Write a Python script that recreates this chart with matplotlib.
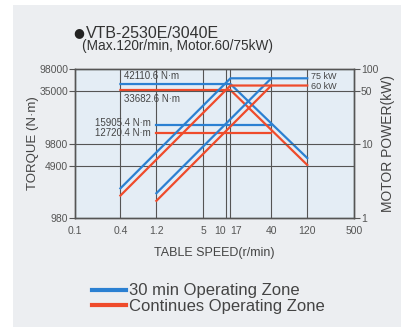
import numpy as np
import matplotlib
matplotlib.use('Agg')
import matplotlib.pyplot as plt
from matplotlib.patches import Rectangle
from matplotlib.lines import Line2D
from matplotlib.ticker import NullLocator

plt.rcParams['font.family'] = ['Liberation Sans', 'DejaVu Sans']

# table speed (r/min)
speed_low = [0.4, 17, 120]
speed_high = [1.2, 40]

# motor power (kW), right axis
power_30min_low = [2.5, 75, 75]
power_30min_high = [2.15, 75]
power_cont_low = [2.0, 60, 60]
power_cont_high = [1.7, 60]

# torque as drawn against the left axis (N·m)
torque_30min_low = [61600, 61600, 6250]
torque_30min_high = [17400, 17400]
torque_cont_low = [51200, 51200, 5050]
torque_cont_high = [13550, 13550]

speed_ticks = [0.1, 0.4, 1.2, 5, 10, 17, 40, 120, 500]
speed_labels = ['0.1', '0.4', '1.2', '5', '10', '17', '40', '120', '500']
torque_labels = ['980', '4900', '9800', '35000', '98000']
power_ticks = [1, 10, 50, 100]

BLUE = '#2b80d2'
RED = '#ef4b2b'
GRID = '#555555'
TXT = '#555555'

# the printed chart squeezes 17 r/min next to 10 on its log speed axis
knots = np.log10([0.1, 10, 17, 40, 500])
drawn = np.log10([0.1, 10, 11.5, 40, 500])


def fwd(x):
    return np.interp(np.log10(np.clip(x, 1e-9, None)), knots, drawn)


def inv(v):
    return 10 ** np.interp(v, drawn, knots)


fig = plt.figure(figsize=(4.07, 3.27), dpi=100)
fig.patch.set_facecolor('white')
fig.patches.append(Rectangle((13 / 407, 0), 388 / 407, 322 / 327, transform=fig.transFigure,
                             facecolor='#eceef1', edgecolor='none', zorder=-10))

ax = fig.add_axes([75 / 407, 109 / 327, 279 / 407, 149 / 327])
ax.set_facecolor('#e4edf5')
ax.set_xscale('function', functions=(fwd, inv))
ax.set_yscale('log')
ax.set_xlim(0.1, 500)
ax.set_ylim(980, 98000)

ax2 = ax.twinx()
ax2.set_yscale('log')
ax2.set_ylim(1, 100)

# torque curves
ax.plot(speed_low, torque_30min_low, color=BLUE, lw=1.6, zorder=4)
ax.plot(speed_high, torque_30min_high, color=BLUE, lw=1.6, zorder=4)
ax.plot(speed_low, torque_cont_low, color=RED, lw=1.6, zorder=5)
ax.plot(speed_high, torque_cont_high, color=RED, lw=1.6, zorder=5)

# power curves
ax2.plot(speed_low, power_30min_low, color=BLUE, lw=1.6, zorder=4)
ax2.plot(speed_high, power_30min_high, color=BLUE, lw=1.6, zorder=4)
ax2.plot(speed_low, power_cont_low, color=RED, lw=1.6, zorder=5)
ax2.plot(speed_high, power_cont_high, color=RED, lw=1.6, zorder=5)

# grid
for s in speed_ticks[1:-1]:
    ax.axvline(s, color=GRID, lw=0.8, zorder=2)
for p in power_ticks[1:3] + [5]:
    ax2.axhline(p, color=GRID, lw=0.8, zorder=2)

ax.set_xticks(speed_ticks, speed_labels)
ax.tick_params(axis='x', length=0, pad=6, labelsize=7.5, labelcolor=TXT)
xl = ax.get_xticklabels()
xl[4].set_ha('right')
xl[5].set_ha('left')

ax.set_yticks([980, 4900, 9800, 49000, 98000], torque_labels)
ax.yaxis.set_minor_locator(NullLocator())
ax.tick_params(axis='y', length=4, width=0.8, color=GRID, pad=1, labelsize=7.5, labelcolor=TXT)

ax2.set_yticks(power_ticks, [str(p) for p in power_ticks])
ax2.yaxis.set_minor_locator(NullLocator())
ax2.tick_params(axis='y', length=4, width=0.8, color=GRID, pad=1, labelsize=7.5, labelcolor=TXT)

for a in (ax, ax2):
    for sp in a.spines.values():
        sp.set_color(GRID)
        sp.set_linewidth(1.0)

ax.set_xlabel('TABLE SPEED(r/min)', fontsize=9, color='#444444', labelpad=8)
ax.set_ylabel('TORQUE (N·m)', fontsize=9.5, color='#444444', labelpad=0)
ax2.set_ylabel('MOTOR POWER(kW)', fontsize=10, color='#444444', labelpad=2)

# value labels
ann = dict(textcoords='offset pixels', fontsize=7, color='#444444', va='center')
ax.annotate('42110.6 N·m', (speed_low[0], torque_30min_low[0]), xytext=(4, 8), ha='left', **ann)
ax.annotate('33682.6 N·m', (speed_low[0], torque_cont_low[0]), xytext=(4, -9), ha='left', **ann)
ax.annotate('15905.4 N·m', (speed_high[0], torque_30min_high[0]), xytext=(-6, 2), ha='right', **ann)
ax.annotate('12720.4 N·m', (speed_high[0], torque_cont_high[0]), xytext=(-6, 0), ha='right', **ann)
ann['fontsize'] = 6.5
ax2.annotate('75 kW', (speed_low[-1], power_30min_low[-1]), xytext=(4, 2), ha='left', **ann)
ax2.annotate('60 kW', (speed_low[-1], power_cont_low[-1]), xytext=(4, -1), ha='left', **ann)

fig.text(73 / 407, 1 - 33 / 327, '●', fontsize=9, color='#222222', va='center', family='DejaVu Sans')
fig.text(86 / 407, 1 - 33 / 327, 'VTB-2530E/3040E', fontsize=11.5, color='#333333', va='center')
fig.text(82 / 407, 1 - 46 / 327, '(Max.120r/min, Motor.60/75kW)', fontsize=9.8, color='#333333', va='center')

handles = [Line2D([], [], color=BLUE, lw=3), Line2D([], [], color=RED, lw=3)]
fig.legend(handles, ['30 min Operating Zone', 'Continues Operating Zone'], loc='upper left',
           bbox_to_anchor=(84 / 407, 1 - 275 / 327), frameon=False, fontsize=12,
           handlelength=2.0, handletextpad=0.2, labelspacing=0.05, borderpad=0,
           labelcolor='#444444')

fig.savefig('out.png', dpi=100, facecolor=fig.get_facecolor())
